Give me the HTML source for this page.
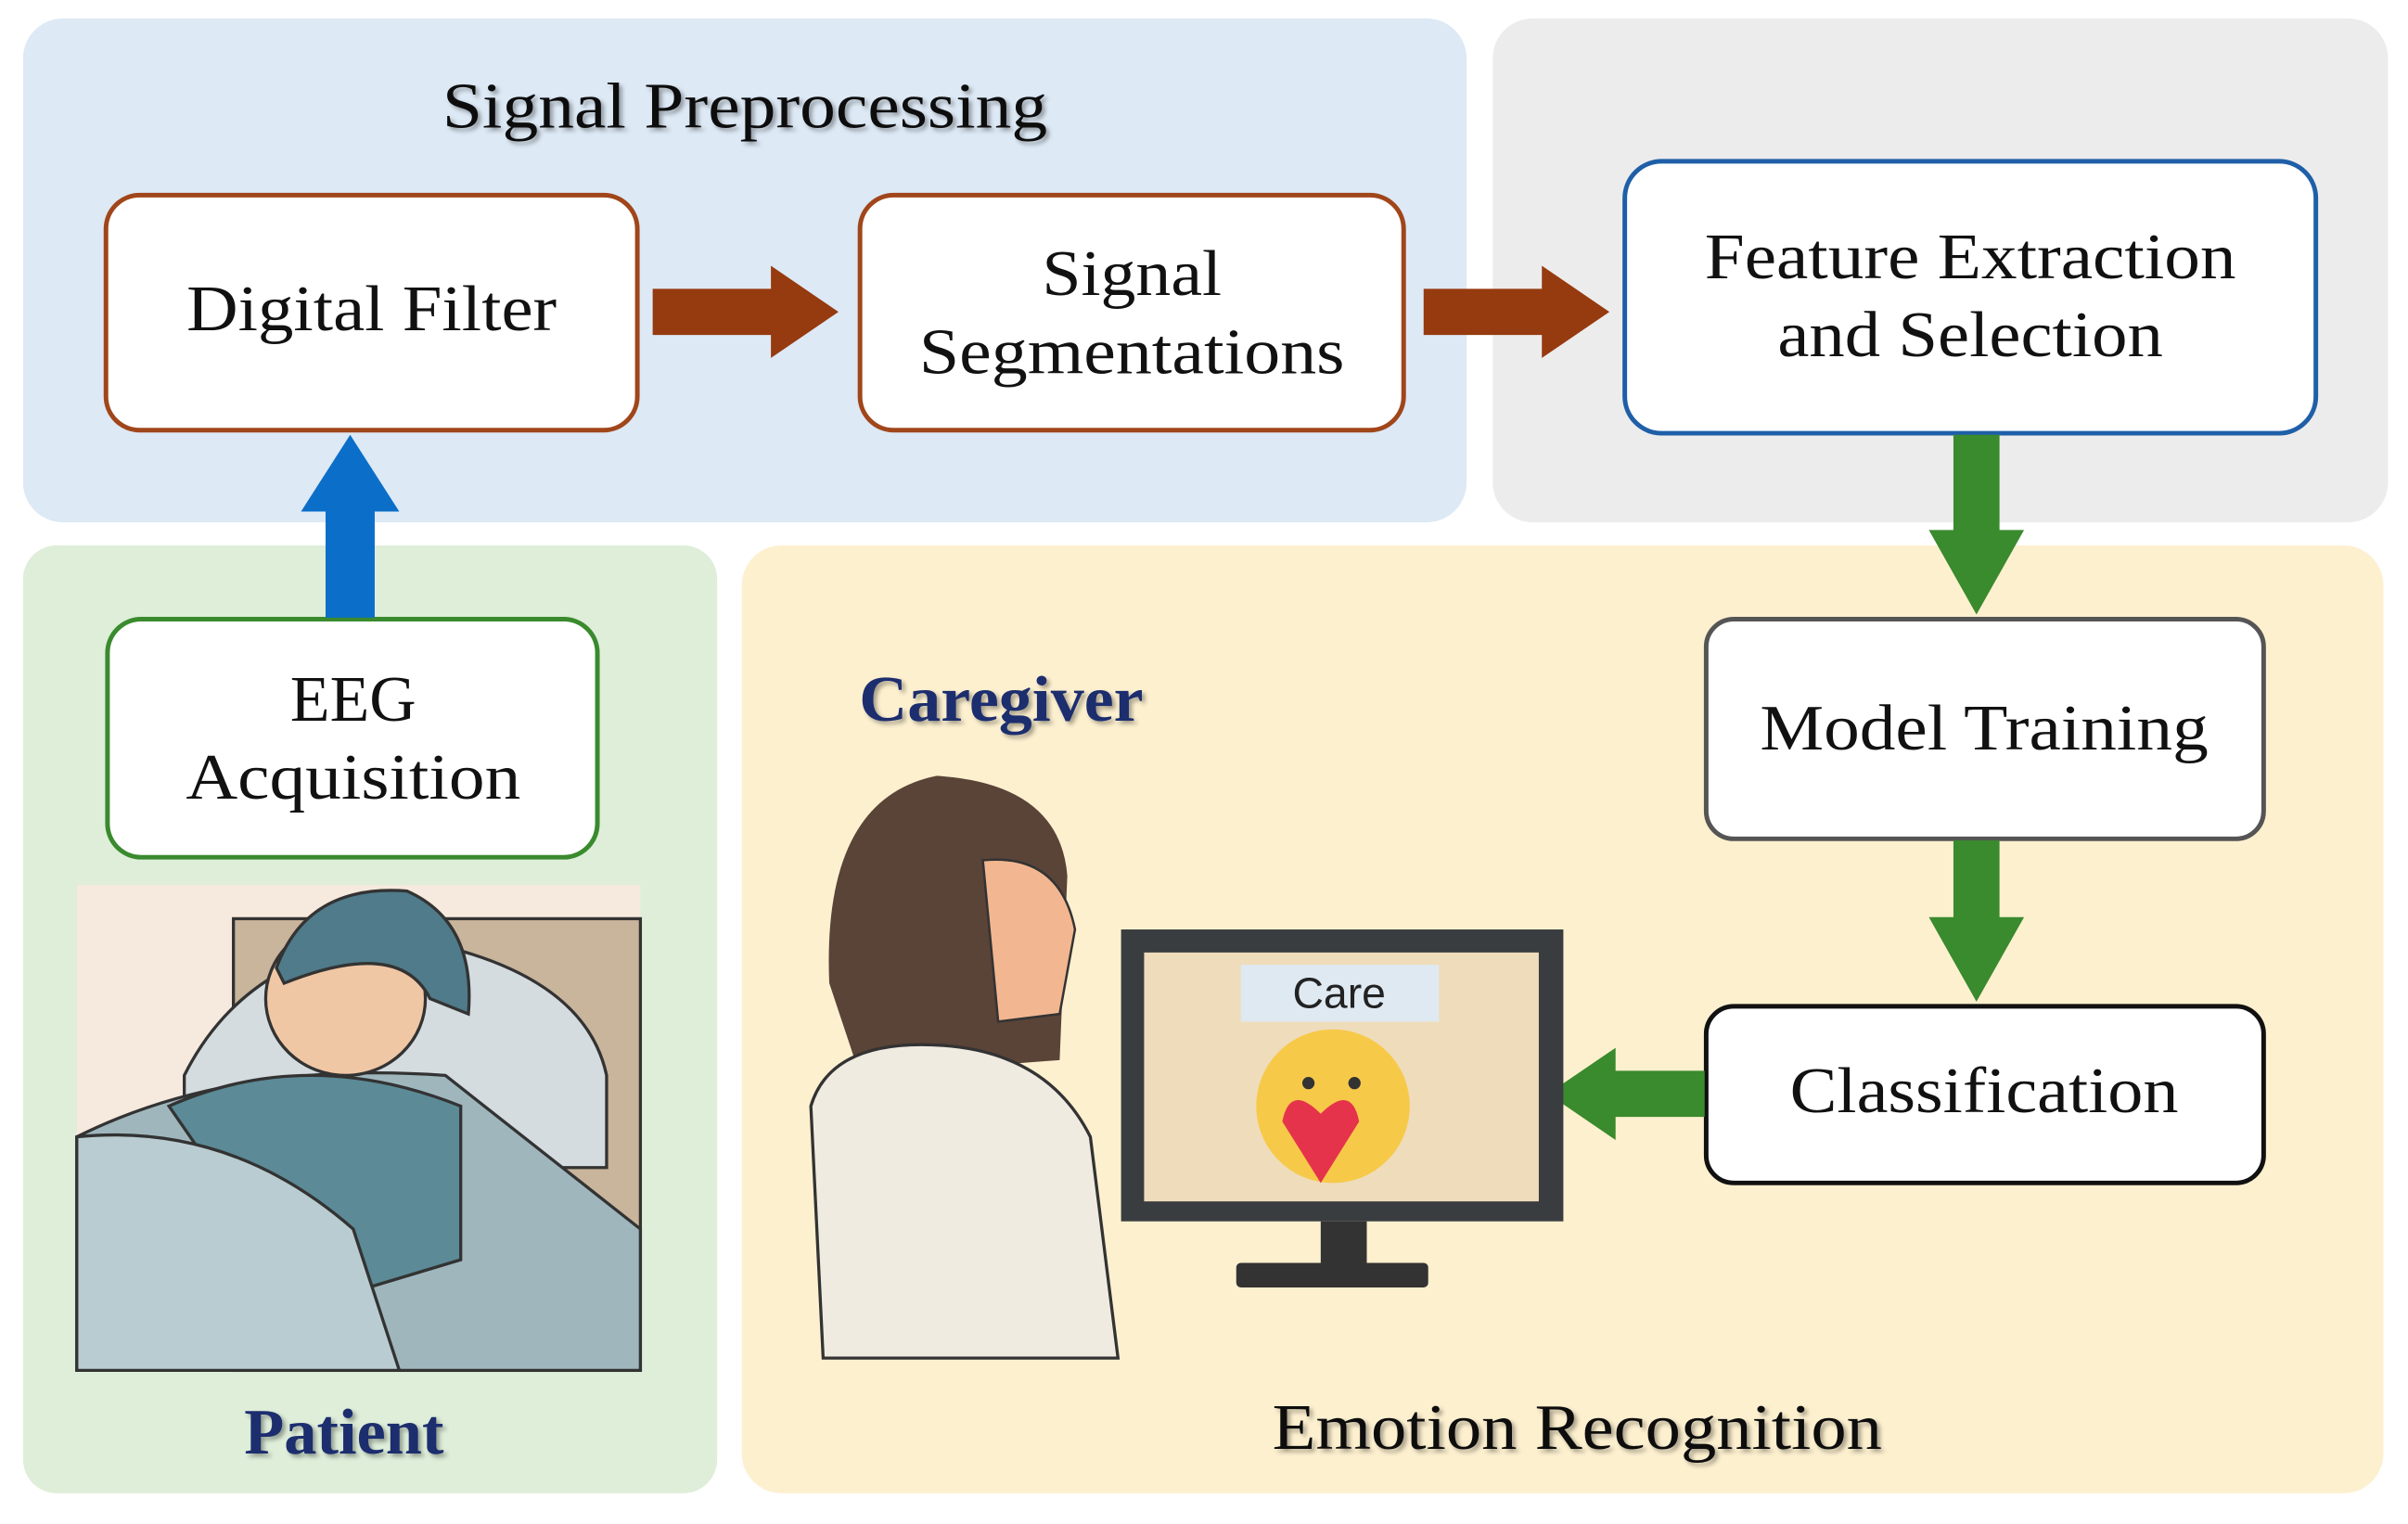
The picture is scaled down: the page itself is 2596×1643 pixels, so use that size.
<!DOCTYPE html>
<html><head><meta charset="utf-8"><style>
html,body{margin:0;padding:0;background:#fff}
svg{display:block}
text{font-family:"Liberation Serif",serif}
</style></head><body>
<svg width="2596" height="1643" viewBox="0 0 1568 992" preserveAspectRatio="none" xmlns="http://www.w3.org/2000/svg">
<defs><filter id="sh"><feDropShadow dx="2" dy="2" stdDeviation="1.5" flood-color="#000" flood-opacity="0.35"/></filter></defs>
<rect width="1568" height="992" fill="#fff"/>
<rect x="15" y="12" width="940" height="328" rx="26" fill="#dde9f5"/>
<rect x="972" y="12" width="583" height="328" rx="26" fill="#ececec"/>
<rect x="15" y="355" width="452" height="617" rx="22" fill="#deeed9"/>
<rect x="483" y="355" width="1069" height="617" rx="26" fill="#fdf0cf"/>

<g filter="url(#sh)" font-size="42" text-anchor="middle" fill="#111" lengthAdjust="spacingAndGlyphs">
<text x="485" y="83" textLength="394" lengthAdjust="spacingAndGlyphs">Signal Preprocessing</text>
<text x="1027" y="943" textLength="397" lengthAdjust="spacingAndGlyphs">Emotion Recognition</text>
<text x="224" y="946" fill="#1f2f6e" font-weight="bold" textLength="130" lengthAdjust="spacingAndGlyphs">Patient</text>
<text x="652" y="469" fill="#1f2f6e" font-weight="bold" textLength="185" lengthAdjust="spacingAndGlyphs">Caregiver</text>
</g>

<rect x="69" y="127" width="346" height="153" rx="22" fill="#fff" stroke="#a0461a" stroke-width="3"/>
<rect x="560" y="127" width="354" height="153" rx="22" fill="#fff" stroke="#a0461a" stroke-width="3"/>
<rect x="1058" y="105" width="450" height="177" rx="24" fill="#fff" stroke="#1f5fa8" stroke-width="3"/>
<rect x="1111" y="403" width="363" height="143" rx="18" fill="#fff" stroke="#555" stroke-width="3"/>
<rect x="1111" y="655" width="363" height="115" rx="18" fill="#fff" stroke="#111" stroke-width="3"/>
<rect x="70" y="403" width="319" height="155" rx="22" fill="#fff" stroke="#3a8a2e" stroke-width="3"/>

<g font-size="42" text-anchor="middle" fill="#111">
<text x="242" y="215" textLength="241" lengthAdjust="spacingAndGlyphs">Digital Filter</text>
<text x="737" y="192" textLength="117" lengthAdjust="spacingAndGlyphs">Signal</text>
<text x="737" y="243" textLength="277" lengthAdjust="spacingAndGlyphs">Segmentations</text>
<text x="1283" y="181" textLength="346" lengthAdjust="spacingAndGlyphs">Feature Extraction</text>
<text x="1283" y="232" textLength="251" lengthAdjust="spacingAndGlyphs">and Selection</text>
<text x="1292" y="488" textLength="292" lengthAdjust="spacingAndGlyphs">Model Training</text>
<text x="1292" y="724" textLength="253" lengthAdjust="spacingAndGlyphs">Classification</text>
<text x="230" y="469" textLength="82" lengthAdjust="spacingAndGlyphs">EEG</text>
<text x="230" y="520" textLength="218" lengthAdjust="spacingAndGlyphs">Acquisition</text>
</g>

<!-- arrows -->
<polygon points="425,188 502,188 502,173 546,203 502,233 502,218 425,218" fill="#963a0f"/>
<polygon points="927,188 1004,188 1004,173 1048,203 1004,233 1004,218 927,218" fill="#963a0f"/>
<polygon points="1272,283 1302,283 1302,345 1318,345 1287,400 1256,345 1272,345" fill="#3a8a2e"/>
<polygon points="1272,547 1302,547 1302,597 1318,597 1287,652 1256,597 1272,597" fill="#3a8a2e"/>
<polygon points="1110,697 1052,697 1052,682 1008,712 1052,742 1052,727 1110,727" fill="#3a8a2e"/>
<polygon points="212,402 244,402 244,333 260,333 228,283 196,333 212,333" fill="#0b6fc9"/>

<!-- patient illustration -->
<rect x="50" y="576" width="367" height="316" fill="#f6e9de"/>
<rect x="152" y="598" width="265" height="294" fill="#c9b49c" stroke="#333" stroke-width="2"/>
<path d="M120,700 Q160,620 260,610 Q380,630 395,700 L395,760 L120,760Z" fill="#d4dce0" stroke="#333" stroke-width="2"/>
<path d="M50,892 L50,740 Q150,690 290,700 L417,800 L417,892Z" fill="#9fb6bd" stroke="#333" stroke-width="2"/>
<path d="M110,720 Q200,680 300,720 L300,820 L200,850 Z" fill="#5c8a96" stroke="#333" stroke-width="2"/>
<ellipse cx="225" cy="650" rx="52" ry="50" fill="#f0c7a5" stroke="#333" stroke-width="2"/>
<path d="M180,630 Q200,575 265,580 Q310,600 305,660 L280,650 Q260,610 185,640Z" fill="#4f7b8a" stroke="#333" stroke-width="2"/>
<path d="M50,740 Q150,730 230,800 L260,892 L50,892Z" fill="#b9ccd1" stroke="#333" stroke-width="2"/>

<!-- caregiver -->
<path d="M540,640 Q535,520 610,505 Q690,510 695,570 L690,690 L560,700Z" fill="#5a4337"/>
<path d="M640,560 Q690,555 700,605 L690,660 L650,665Z" fill="#f2b790" stroke="#333" stroke-width="1.5"/>
<path d="M528,720 Q540,680 600,680 Q680,680 710,740 L728,884 L536,884Z" fill="#f0ebe1" stroke="#333" stroke-width="2"/>

<!-- monitor -->
<rect x="730" y="605" width="288" height="190" fill="#3a3d40"/>
<rect x="745" y="620" width="257" height="162" fill="#efdcbb"/>
<rect x="860" y="795" width="30" height="30" fill="#333"/>
<rect x="805" y="822" width="125" height="16" rx="3" fill="#333"/>
<rect x="808" y="628" width="129" height="37" fill="#dfe9f2"/>
<text x="872" y="656" font-size="28" text-anchor="middle" fill="#222" style="font-family:'Liberation Sans',sans-serif">Care</text>
<circle cx="868" cy="720" r="50" fill="#f7c948"/>
<path d="M835,730 Q840,705 860,725 Q880,705 885,730 L860,770Z" fill="#e5334b"/>
<circle cx="852" cy="705" r="4" fill="#333"/><circle cx="882" cy="705" r="4" fill="#333"/>
</svg>
</body></html>
